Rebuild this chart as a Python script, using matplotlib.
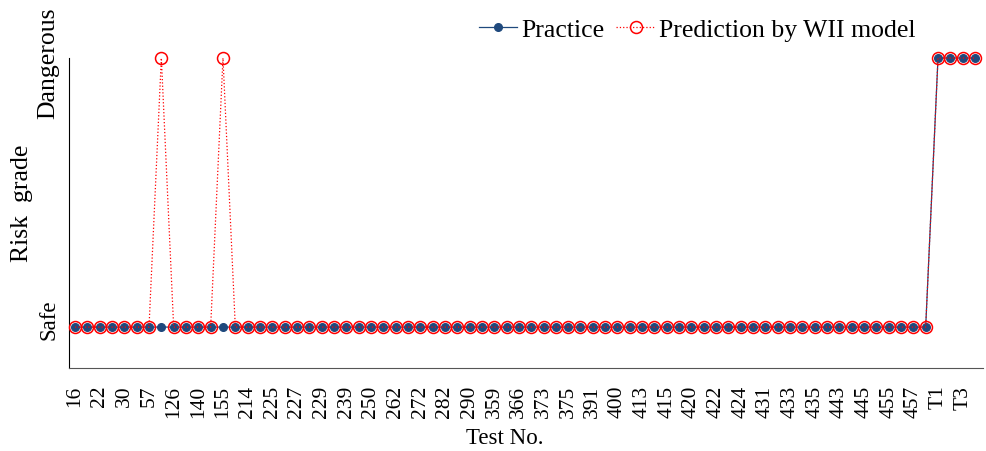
import matplotlib
matplotlib.use("Agg")
import matplotlib.pyplot as plt
import matplotlib.transforms as mtransforms
import numpy as np

plt.rcParams['font.family'] = ['Liberation Serif', 'DejaVu Serif']

# Test labels shown on the axis (every other test)
tick_labels = ["16", "22", "30", "57", "126", "140", "155", "214", "225", "227",
               "229", "239", "250", "262", "272", "282", "290", "359", "366", "373",
               "375", "391", "400", "413", "415", "420", "422", "424", "431", "433",
               "435", "443", "445", "455", "457", "T1", "T3"]

# Risk grade per test: 0 = Safe, 1 = Dangerous
practice = [0] * 70 + [1] * 4
prediction = [0] * 7 + [1] + [0] * 4 + [1] + [0] * 57 + [1] * 4

n = len(practice)
x = np.arange(n)

fig = plt.figure(figsize=(9.86, 4.52), dpi=100)
ax = fig.add_axes([69 / 986, 1 - 369 / 452, (983 - 69) / 986, (369 - 59) / 452])

ax.plot(x, practice, color="#1f497d", lw=0.9, marker="o", markersize=5.5,
        markerfacecolor="#1f497d", markeredgecolor="#1f497d",
        label="Practice", clip_on=False, zorder=3)
ax.plot(x, prediction, color="#ff0000", lw=0.9, linestyle=":", marker="o",
        markersize=8.6, markerfacecolor="none", markeredgecolor="#ff0000",
        markeredgewidth=1.1, label="Prediction by WII model", clip_on=False, zorder=4)

ax.set_xlim(-0.49, 73.65)
ax.set_ylim(-0.152, 1.0)

ax.tick_params(axis="x", length=0, pad=12)
ax.tick_params(axis="y", length=0, pad=7)
ax.set_xticks(x[::2])
ax.set_xticklabels(tick_labels, rotation=90, fontsize=15.5)
ax.set_yticks([0, 1])
ylabels = ax.set_yticklabels(["Safe", "Dangerous"], rotation=90, va="center")
ylabels[0].set_fontsize(16.5)
ylabels[1].set_fontsize(18.5)
# nudge the two grade labels slightly toward the middle of the axis
for lab, dy in zip(ylabels, (6 / 72, -3 / 72)):
    lab.set_transform(lab.get_transform()
                      + mtransforms.ScaledTranslation(0, dy, fig.dpi_scale_trans))

for side in ("top", "right"):
    ax.spines[side].set_visible(False)
ax.spines["left"].set_color("black")
ax.spines["bottom"].set_color("#555555")

ax.set_xlabel("Test No.", fontsize=16.5)
ax.xaxis.set_label_coords(0.477, -0.19)
ax.set_ylabel("Risk  grade", fontsize=18.5)
ax.yaxis.set_label_coords(-0.0394, 0.535)

ax.legend(loc="center right", bbox_to_anchor=(0.926, 1.093), ncol=2, frameon=False,
          fontsize=18.5, handlelength=1.5, handletextpad=0.15, columnspacing=0.47,
          borderpad=0, borderaxespad=0)

fig.savefig("out.png", dpi=100)
